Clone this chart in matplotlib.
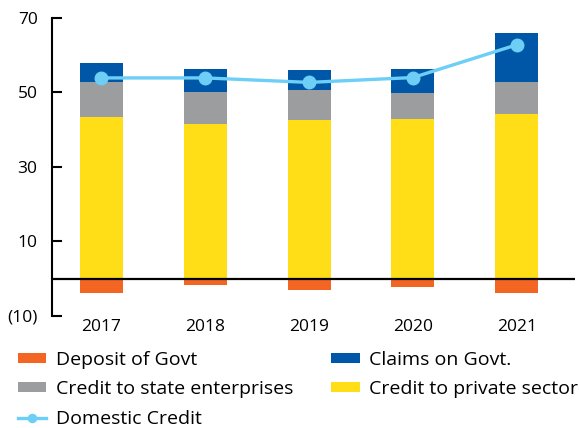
import matplotlib
matplotlib.use('Agg')
import matplotlib.pyplot as plt
import numpy as np

years = ['2017', '2018', '2019', '2020', '2021']
private_credit = [43.4, 41.5, 42.6, 42.8, 44.2]
state_credit = [9.4, 8.5, 8.0, 7.0, 8.6]
claims_govt = [5.1, 6.3, 5.4, 6.5, 13.1]
deposit_govt = [-3.8, -1.8, -3.1, -2.3, -3.8]
domestic_credit = [53.9, 53.9, 52.7, 54.0, 62.8]
ytick_vals = [-10, 10, 30, 50, 70]
ytick_labels = ['(10)', '10', '30', '50', '70']

plt.rcParams['font.family'] = ['Open Sans', 'DejaVu Sans']

c_orange = '#F26522'
c_blue = '#0057A8'
c_gray = '#9B9D9E'
c_yellow = '#FFDD17'
c_line = '#6DCFF6'

fig = plt.figure(figsize=(5.79, 4.28), dpi=100)
ax = fig.add_axes([0.089, 0.262, 0.904, 0.696])

x = np.arange(len(years))
w = 0.414
priv = np.array(private_credit)
state = np.array(state_credit)

b_dep = ax.bar(x, deposit_govt, w, color=c_orange, label='Deposit of Govt', zorder=2)
b_priv = ax.bar(x, priv, w, color=c_yellow, label='Credit to private sector', zorder=2)
b_state = ax.bar(x, state, w, bottom=priv, color=c_gray, label='Credit to state enterprises', zorder=2)
b_claims = ax.bar(x, claims_govt, w, bottom=priv + state, color=c_blue, label='Claims on Govt.', zorder=2)
ln, = ax.plot(x, domestic_credit, color=c_line, lw=2.4, marker='o', ms=9, label='Domestic Credit', zorder=4)

ax.axhline(0, color='black', lw=1.6, zorder=3)

ax.set_xlim(-0.48, 4.56)
ax.set_ylim(-10, 70)
ax.set_yticks(ytick_vals)
ax.set_yticklabels(ytick_labels, fontsize=12.5)
ax.set_xticks(x)
ax.set_xticklabels(years, fontsize=12.5)

for s in ['top', 'right', 'bottom']:
    ax.spines[s].set_visible(False)
ax.spines['left'].set_linewidth(1.5)
ax.tick_params(axis='y', direction='in', length=7, width=1.5, pad=10)
ax.tick_params(axis='x', length=0, pad=2)

handles = [b_dep, b_state, ln, b_claims, b_priv]
fig.legend(handles=handles, labels=[h.get_label() for h in handles], ncol=2,
           loc='upper left', bbox_to_anchor=(0.018, 0.199), frameon=False,
           fontsize=14, handlelength=1.45, handleheight=0.42, columnspacing=1.95,
           labelspacing=0.6, handletextpad=0.5, borderaxespad=0, markerscale=0.65)

fig.savefig('out.png', dpi=100)
